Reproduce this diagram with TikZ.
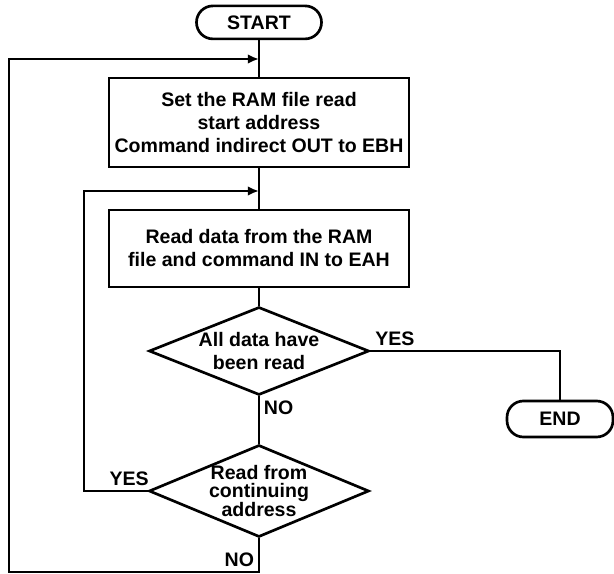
\documentclass[tikz,border=0pt]{standalone}
\usepackage{fontspec}
\setmainfont{Liberation Sans}
\usetikzlibrary{shapes.geometric,arrows.meta}
\tikzset{
  terminal/.style = {draw, line width=1.9pt, rounded corners=0.41cm, minimum width=3.125cm, minimum height=0.825cm},
  flowbox/.style = {draw, line width=1.9pt, align=center, minimum width=7.5cm, inner sep=2pt},
  decision/.style = {draw, line width=1.9pt, diamond, minimum width=5.5cm, minimum height=2.2cm, inner sep=0pt},
  flowline/.style = {line width=1.9pt},
  looparrow/.style = {line width=1.9pt, -{Latex[length=0.28cm, width=0.24cm]}},
}
\begin{document}
\begin{tikzpicture}[font=\fontsize{13.9}{16.5}\selectfont\bfseries]
\useasboundingbox (0,0) rectangle (15.35,-14.35);
\node[terminal] (start) at (6.475,-0.56) {START};
\node[flowbox, minimum height=2.225cm] (setaddr) at (6.475,-3.06) {Set the RAM file read\\start address\\Command indirect OUT to EBH};
\node[flowbox, minimum height=1.925cm] (readdata) at (6.475,-6.21) {Read data from the RAM\\file and command IN to EAH};
\node[decision, label={[align=center]center:{All data have\\been read}}] (alldone) at (6.475,-8.775) {};
\node[decision, minimum height=2.3cm, label={[align=center, font=\fontsize{13.9}{12.8}\selectfont\bfseries]center:{Read from\\continuing\\address}}] (contaddr) at (6.475,-12.275) {};
\node[terminal, minimum width=2.65cm, minimum height=0.9cm] (finish) at (14.0,-10.475) {END};
\coordinate (join1) at (6.475,-1.475);
\coordinate (join2) at (6.475,-4.775);
\coordinate (inner) at (2.1,-12.275);
\coordinate (bottom) at (6.475,-14.3);
\coordinate (outer) at (0.225,-14.3);
\draw[flowline] (start) -- (setaddr) -- (readdata) -- (alldone) -- (contaddr);
\draw[flowline] (alldone.east) -| (finish.north);
\draw[looparrow] (contaddr.south) -- (bottom) -- (outer) |- (join1);
\draw[looparrow] (contaddr.west) -- (inner) |- (join2);
\node[above right] (yes1) at (alldone.east) {YES};
\node[below right] (no1) at (alldone.south) {NO};
\node[above left, xshift=0.15cm] (yes2) at (contaddr.west) {YES};
\node[above left] (no2) at (bottom) {NO};
\end{tikzpicture}
\end{document}
